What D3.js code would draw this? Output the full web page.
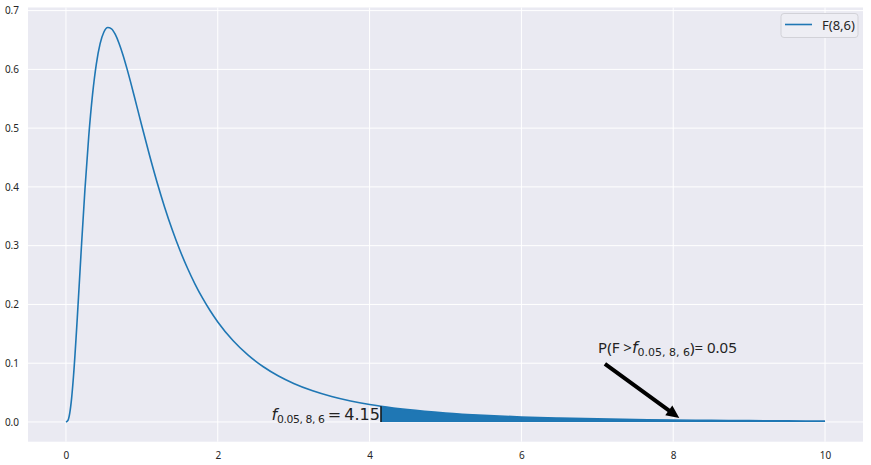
<!DOCTYPE html>
<html><head><meta charset="utf-8">
<script src="https://cdn.jsdelivr.net/npm/d3@7"></script>
<style>body{margin:0;background:#fff}svg{display:block}</style>
</head><body><svg id="c" width="871" height="465"></svg>
<script>
const xs = [0,0.025,0.05,0.075,0.1,0.15,0.2,0.25,0.3,0.35,0.4,0.45,0.5,0.55,0.6,0.65,0.7,0.75,0.8,0.85,0.9,0.95,1.0,1.1,1.2,1.3,1.4,1.5,1.6,1.7,1.8,1.9,2.0,2.2,2.4,2.6,2.8,3.0,3.25,3.5,3.75,4.0,4.15,4.5,5.0,5.5,6.0,6.5,7.0,7.5,8.0,8.5,9.0,9.5,10.0];
const pdf = [0,0.00236,0.01509,0.04105,0.07896,0.17861,0.28997,0.39551,0.48570,0.55691,0.60898,0.64372,0.66355,0.67120,0.66904,0.65943,0.64418,0.62500,0.60296,0.57910,0.55418,0.52887,0.50357,0.45427,0.40797,0.36550,0.32707,0.29264,0.26196,0.23469,0.21057,0.18918,0.17025,0.13863,0.11371,0.09395,0.07820,0.06554,0.05303,0.04333,0.03572,0.02969,0.02668,0.02098,0.01523,0.01131,0.00856,0.00660,0.00517,0.00411,0.00330,0.00268,0.00220,0.00183,0.00153];
const xTicks = [0,2,4,6,8,10];
const yTicks = [0.0,0.1,0.2,0.3,0.4,0.5,0.6,0.7];
const critical = 4.15;
const legendLabel = "F(8,6)";

const svg = d3.select("#c");
const L=28,R=863,T=7.5,B=441.7;
const x = d3.scaleLinear().domain([-0.5,10.5]).range([L,R]);
const y = d3.scaleLinear().domain([-0.0336,0.7053]).range([B,T]);
const blue="#1f77b4";
const font="'Noto Sans', 'Open Sans', sans-serif";

svg.append("rect").attr("x",L).attr("y",T).attr("width",R-L).attr("height",B-T).attr("fill","#EAEAF2");
const g = svg.append("g");
g.selectAll(".gx").data(xTicks).join("line").attr("x1",d=>x(d)).attr("x2",d=>x(d)).attr("y1",T).attr("y2",B).attr("stroke","#fff").attr("stroke-width",1);
g.selectAll(".gy").data(yTicks).join("line").attr("x1",L).attr("x2",R).attr("y1",d=>y(d)).attr("y2",d=>y(d)).attr("stroke","#fff").attr("stroke-width",1);

const ax = svg.append("g").attr("transform",`translate(0,${B})`).call(d3.axisBottom(x).tickValues(xTicks).tickSize(0).tickPadding(8).tickFormat(d3.format("d")));
const ay = svg.append("g").attr("transform",`translate(${L},0)`).call(d3.axisLeft(y).tickValues(yTicks).tickSize(0).tickPadding(9).tickFormat(d3.format(".1f")));
[ax,ay].forEach(a=>{a.select(".domain").remove();a.selectAll("text").attr("font-family",font).attr("font-size",10).attr("fill","#262626");});
ax.selectAll("text").attr("dy","0.95em");

const pts = xs.map((v,i)=>[v,pdf[i]]);
const tail = pts.filter(p=>p[0]>=critical);
svg.append("path").datum(tail).attr("d",d3.area().x(d=>x(d[0])).y0(y(0)).y1(d=>y(d[1])).curve(d3.curveMonotoneX)).attr("fill",blue);
svg.append("path").datum(pts).attr("d",d3.line().x(d=>x(d[0])).y(d=>y(d[1])).curve(d3.curveMonotoneX)).attr("fill","none").attr("stroke",blue).attr("stroke-width",1.6);
const critY = pdf[xs.indexOf(critical)];
svg.append("line").attr("x1",x(critical)).attr("x2",x(critical)).attr("y1",y(0)).attr("y2",y(critY)).attr("stroke","#111").attr("stroke-width",1.5);

// critical value label (right end touching the line)
const t1 = svg.append("text").attr("x",x(critical)-1).attr("y",y(0)-2).attr("text-anchor","end").attr("font-family","'DejaVu Sans'").attr("font-size",16).attr("fill","#222");
t1.append("tspan").attr("font-style","italic").text("f");
t1.append("tspan").attr("font-size",10.8).attr("dy",3).attr("letter-spacing",-0.4).text("0.05, 8, 6");
t1.append("tspan").attr("dy",-3).text("\u2009=\u20094.15");

// annotation
const t2 = svg.append("text").attr("x",x(7.01)).attr("y",y(0.117)).attr("font-family",font).attr("font-size",15).attr("fill","#222");
t2.append("tspan").text("P(F >");
t2.append("tspan").attr("font-family","'DejaVu Sans'").attr("font-style","italic").attr("font-size",16).text("f");
t2.append("tspan").attr("font-family","'DejaVu Sans'").attr("font-size",11).attr("dy",3).text("0.05, 8, 6");
t2.append("tspan").attr("dy",-3).text(")= 0.05");

// arrow
const ax0=x(7.1),ay0=y(0.0988),ax1=x(8.08),ay1=y(0.0068);
const dx=ax1-ax0,dy=ay1-ay0,len=Math.hypot(dx,dy),ux=dx/len,uy=dy/len,px=-uy,py=ux;
const hl=13,hw=6,sw=2;
const bx=ax1-ux*hl,by=ay1-uy*hl;
svg.append("polygon").attr("points",[
 [ax0+px*sw,ay0+py*sw],[bx+px*sw,by+py*sw],[bx+px*hw,by+py*hw],[ax1,ay1],[bx-px*hw,by-py*hw],[bx-px*sw,by-py*sw],[ax0-px*sw,ay0-py*sw]
].map(p=>p.join(",")).join(" ")).attr("fill","#000");

// legend
const lg = svg.append("g");
lg.append("rect").attr("x",781).attr("y",13.5).attr("width",77).attr("height",24).attr("rx",3).attr("fill","#EEEEF4").attr("stroke","#d2d2d8");
lg.append("line").attr("x1",785).attr("x2",812).attr("y1",24.5).attr("y2",24.5).attr("stroke",blue).attr("stroke-width",1.6);
lg.append("text").attr("x",822).attr("y",30).attr("font-family",font).attr("font-size",13).attr("fill","#262626").text(legendLabel);
</script></body></html>
